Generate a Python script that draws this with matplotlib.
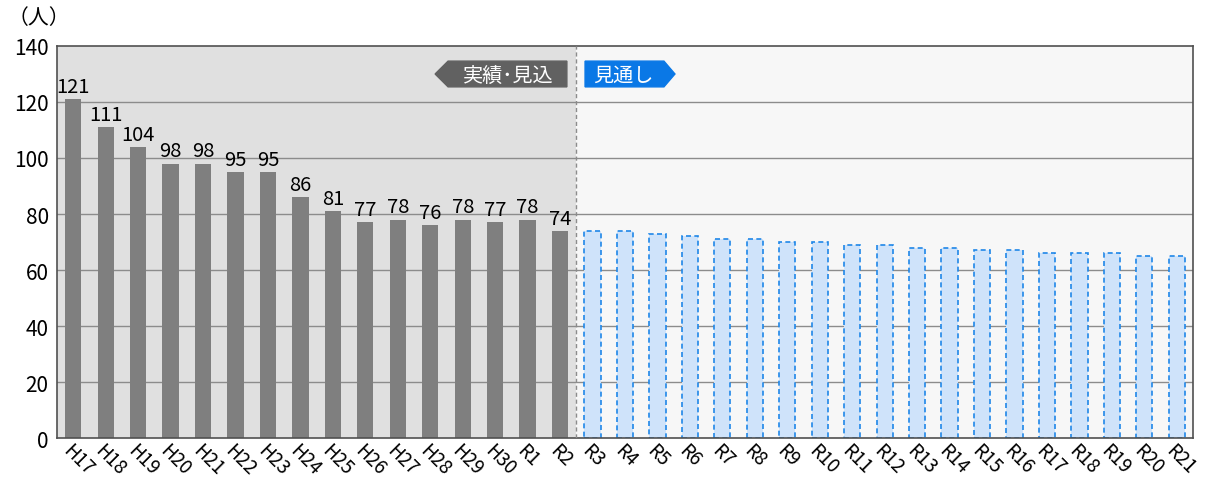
import matplotlib.pyplot as plt
import numpy as np
from matplotlib.patches import Polygon

plt.rcParams['font.family'] = ['Noto Sans CJK JP', 'DejaVu Sans']

actual_labels = ["H17", "H18", "H19", "H20", "H21", "H22", "H23", "H24", "H25",
                 "H26", "H27", "H28", "H29", "H30", "R1", "R2"]
actual_values = [121, 111, 104, 98, 98, 95, 95, 86, 81, 77, 78, 76, 78, 77, 78, 74]

proj_labels = ["R3", "R4", "R5", "R6", "R7", "R8", "R9", "R10", "R11", "R12",
               "R13", "R14", "R15", "R16", "R17", "R18", "R19", "R20", "R21"]
proj_values = [74, 74, 73, 72, 71, 71, 70, 70, 69, 69, 68, 68, 67, 67, 66, 66, 66, 65, 65]

n_act = len(actual_values)
n_all = n_act + len(proj_values)
x_act = np.arange(n_act)
x_proj = np.arange(n_act, n_all)

fig = plt.figure(figsize=(12.07, 4.81), dpi=100)
ax = fig.add_axes([0.0472, 0.0873, 0.9412, 0.815])

split = n_act - 0.5
ax.axvspan(-0.5, split, color="#e0e0e0", zorder=0, lw=0)
ax.axvspan(split, n_all - 0.5, color="#f7f7f7", zorder=0, lw=0)

for y in range(20, 140, 20):
    ax.axhline(y, color="#8c8c8c", lw=1, zorder=1)

ax.bar(x_act, actual_values, width=0.5, color="#7f7f7f", zorder=2)
ax.bar(x_proj, proj_values, width=0.5, color="#cfe3fa", edgecolor="#1f87e8",
       linestyle=(0, (3, 2)), linewidth=1.2, zorder=2)

for xi, v in zip(x_act, actual_values):
    ax.text(xi, v + 0.8, str(v), ha="center", va="bottom", fontsize=14.5, zorder=3)

ax.axvline(split, color="#8c8c8c", lw=1, linestyle=(0, (3, 2)), zorder=3)

# tags
ax.add_patch(Polygon([(11.15, 130), (11.55, 134.6), (15.21, 134.6), (15.21, 125.4), (11.55, 125.4)],
                     closed=True, color="#616161", zorder=4))
ax.text(13.4, 129.6, "実績･見込", color="white", ha="center", va="center", fontsize=14.5, zorder=5)
ax.add_patch(Polygon([(15.77, 134.6), (18.2, 134.6), (18.54, 130), (18.2, 125.4), (15.77, 125.4)],
                     closed=True, color="#0a78e6", zorder=4))
ax.text(16.95, 129.6, "見通し", color="white", ha="center", va="center", fontsize=14.5, zorder=5)

ax.set_xlim(-0.5, n_all - 0.5)
ax.set_ylim(0, 140)
ax.set_yticks(range(0, 141, 20))
ax.set_xticks(np.arange(n_all))
ax.set_xticklabels(actual_labels + proj_labels, rotation=-45, ha="left", va="top",
                   rotation_mode="anchor")
ax.tick_params(axis="y", length=0, labelsize=15, colors="black", pad=6)
ax.tick_params(axis="x", length=0, labelsize=13.5, colors="black", pad=1)
for s in ax.spines.values():
    s.set_color("#505050")
    s.set_linewidth(1.2)

fig.text(0.006, 0.962, "（人）", fontsize=15, ha="left", va="center")

fig.savefig("out.png", dpi=100)
